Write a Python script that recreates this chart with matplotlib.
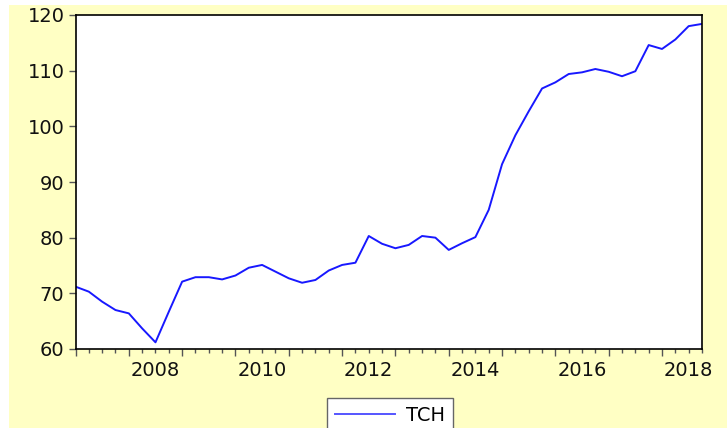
import numpy as np
import matplotlib
matplotlib.use("Agg")
import matplotlib.pyplot as plt
import matplotlib.transforms as mtransforms
from matplotlib.patches import Rectangle

plt.rcParams['font.family'] = ['DejaVu Sans']

# quarterly observations, 2007Q1 .. 2018Q4
quarters = [f"{y}Q{q}" for y in range(2007, 2019) for q in range(1, 5)]
tch = [71.2, 70.3, 68.5, 67.0, 66.4, 63.7, 61.2, 66.7, 72.1, 72.9,
       72.9, 72.5, 73.2, 74.6, 75.1, 73.9, 72.7, 71.9, 72.4, 74.1,
       75.1, 75.5, 80.3, 78.9, 78.1, 78.7, 80.3, 80.0, 77.8, 79.0,
       80.1, 85.0, 93.2, 98.4, 102.7, 106.8, 107.9, 109.4, 109.7, 110.3,
       109.8, 109.0, 109.9, 114.6, 113.9, 115.6, 118.0, 118.4]
year_labels = ["2008", "2010", "2012", "2014", "2016", "2018"]
y_ticks = [60, 70, 80, 90, 100, 110, 120]

fig = plt.figure(figsize=(7.27, 4.28), dpi=100)
fig.patch.set_facecolor("white")
bg = Rectangle((9/727, 0), 1 - 9/727, 1 - 5/428, transform=fig.transFigure,
               facecolor="#FFFFC4", edgecolor="none", zorder=-10)
fig.patches.append(bg)

ax = fig.add_axes([75.5/727, (428-349)/428, (702-75.5)/727, (349-15)/428])
x = np.arange(len(tch))
ax.plot(x, tch, color="#1818FF", lw=1.4, label="TCH")

ax.set_xlim(0, len(tch) - 1)
ax.set_ylim(60, 120)
ax.set_yticks(y_ticks)
ax.set_yticklabels([str(v) for v in y_ticks])

# year ticks (long) at each Q1, quarter ticks (short); year labels centred in the year
year_pos = [i for i, q in enumerate(quarters) if q.endswith("Q1")]
ax.set_xticks(year_pos)
ax.set_xticklabels([])
ax.set_xticks(x, minor=True)
trans = mtransforms.blended_transform_factory(ax.transData, ax.transAxes)
for i, q in enumerate(quarters):
    if q.endswith("Q1") and q[:4] in year_labels:
        ax.text(i + 2, -0.063, q[:4], transform=trans, ha="center", va="center",
                fontsize=14, color="#111111")

ax.tick_params(axis="both", which="major", direction="out", length=5, width=1,
               color="#555555", labelsize=14, labelcolor="#111111")
ax.tick_params(axis="x", which="minor", direction="out", length=3, width=1, color="#555555")
ax.tick_params(axis="y", which="major", pad=3)

for s in ax.spines.values():
    s.set_color("black")
    s.set_linewidth(1.2)

leg = fig.legend(loc="upper center", bbox_to_anchor=(390/727, 1 - 398/428),
                 fontsize=14, frameon=True, fancybox=False, handlelength=3.1,
                 borderpad=0.4, handletextpad=0.6, borderaxespad=0, framealpha=1)
leg.get_frame().set_edgecolor("#666666")
leg.get_frame().set_facecolor("white")
leg.get_frame().set_linewidth(1)
leg.get_lines()[0].set_color("#5555FF")

fig.savefig("out.png", dpi=100)
